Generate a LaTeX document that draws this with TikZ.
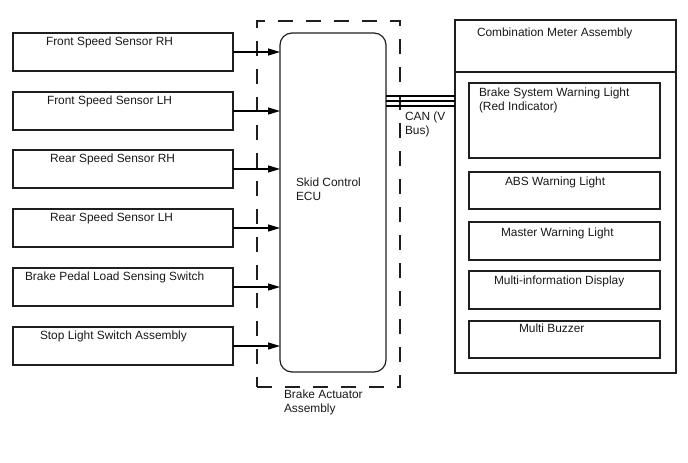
\documentclass[tikz,border=0pt]{standalone}
\usepackage{fontspec}
\setmainfont{Liberation Sans}
\usetikzlibrary{arrows.meta}
\begin{document}
\begin{tikzpicture}[x=1pt,y=-1pt,
  every node/.style={inner sep=0pt,outer sep=0pt},
  box/.style={draw=black!88,line width=1.2pt,anchor=north west},
  lbl/.style={anchor=base west,font=\fontsize{11.9}{14}\selectfont,text=black!90},
  mlbl/.style={anchor=north west,align=left,font=\fontsize{11.9}{14}\selectfont,text=black!90},
  sig/.style={draw=black,line width=1.2pt,-{Triangle[length=12pt,width=7pt]}},
  bus/.style={draw=black,line width=1.8pt}]
\useasboundingbox (0,0) rectangle (688,463);
% dashed actuator outline
\node[draw=black!88,line width=1.4pt,dash pattern=on 15pt off 13pt,anchor=north west,
  minimum width=143pt,minimum height=366pt] (act) at (257,21) {};
% ECU
\node[box,rounded corners=12pt,minimum width=106pt,minimum height=339pt] (ecu) at (280,33) {};
\node[mlbl] (ecut) at (296,178) {Skid Control\\ECU};
\node[mlbl] (actt) at (284,390) {Brake Actuator\\Assembly};
% left input boxes
\foreach \n/\t/\tx/\txt in {s1/33/46/Front Speed Sensor RH,
                            s2/92/47/Front Speed Sensor LH,
                            s3/150/50/Rear Speed Sensor RH,
                            s4/209/50/Rear Speed Sensor LH,
                            s5/268/25/Brake Pedal Load Sensing Switch,
                            s6/327/40/Stop Light Switch Assembly}{
  \node[box,minimum width=220pt,minimum height=38pt] (\n) at (13,\t) {};
  \node[lbl] (\n t) at (\tx,\t+12) {\txt};
  \draw[sig] (\n.east) -- (ecu.west |- \n.east);
}
% combination meter
\node[box,minimum width=221pt,minimum height=353pt] (cm) at (455,20) {};
\coordinate (cmdl) at (455,72);
\coordinate (cmdr) at (676,72);
\draw[draw=black!88,line width=1.2pt] (cmdl) -- (cmdr);
\node[lbl] (cmt) at (477,36) {Combination Meter Assembly};
\node[box,minimum width=191pt,minimum height=75pt] (w1) at (469,83) {};
\node[mlbl] (w1t) at (479,88) {Brake System Warning Light\\(Red Indicator)};
\node[box,minimum width=191pt,minimum height=37pt] (w2) at (469,172) {};
\node[lbl] (w2t) at (505,185) {ABS Warning Light};
\node[box,minimum width=191pt,minimum height=38pt] (w3) at (469,222) {};
\node[lbl] (w3t) at (501,236) {Master Warning Light};
\node[box,minimum width=191pt,minimum height=38pt] (w4) at (469,271) {};
\node[lbl] (w4t) at (494,284) {Multi-information Display};
\node[box,minimum width=191pt,minimum height=37pt] (w5) at (469,321) {};
\node[lbl] (w5t) at (519,332) {Multi Buzzer};
% CAN bus
\coordinate (c1) at (386,96);
\coordinate (c2) at (386,101);
\coordinate (c3) at (386,106);
\draw[bus] (c1) -- (cm.west |- c1);
\draw[bus] (c2) -- (cm.west |- c2);
\draw[bus] (c3) -- (cm.west |- c3);
\node[mlbl] (cant) at (405,112) {CAN (V\\Bus)};
\end{tikzpicture}
\end{document}
